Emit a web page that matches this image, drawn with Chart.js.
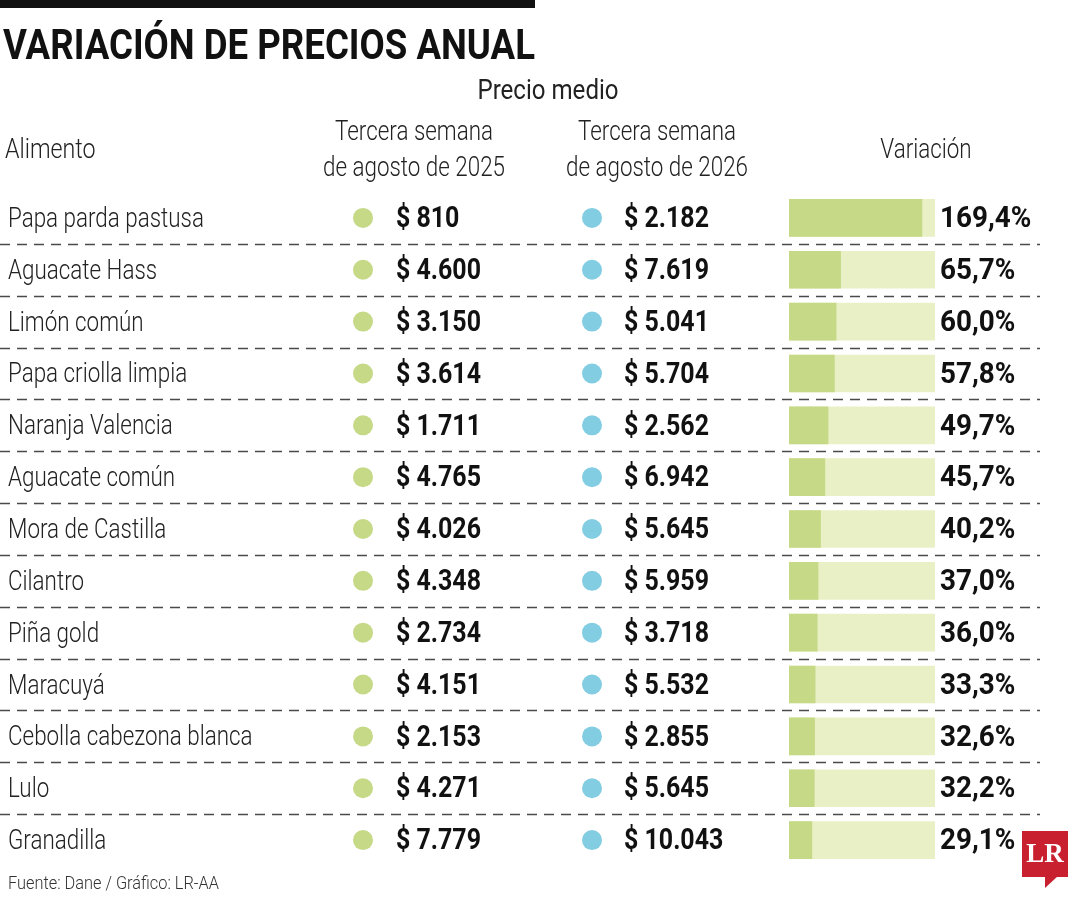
<!DOCTYPE html>
<html>
<head>
<meta charset="utf-8">
<script src="https://cdn.jsdelivr.net/npm/chart.js@4"></script>
<style>
  html, body { margin: 0; padding: 0; background: #fff; }
  #wrap { width: 1080px; height: 900px; }
</style>
</head>
<body>
<div id="wrap"><canvas id="precios" width="1080" height="900"></canvas></div>
<script>
// datos
const alimentos = ['Papa parda pastusa', 'Aguacate Hass', 'Limón común', 'Papa criolla limpia', 'Naranja Valencia',
    'Aguacate común', 'Mora de Castilla', 'Cilantro', 'Piña gold', 'Maracuyá', 'Cebolla cabezona blanca', 'Lulo', 'Granadilla'];
const precio2025 = [810, 4600, 3150, 3614, 1711, 4765, 4026, 4348, 2734, 4151, 2153, 4271, 7779];
const precio2026 = [2182, 7619, 5041, 5704, 2562, 6942, 5645, 5959, 3718, 5532, 2855, 5645, 10043];
const variacion = [169.4, 65.7, 60.0, 57.8, 49.7, 45.7, 40.2, 37.0, 36.0, 33.3, 32.6, 32.2, 29.1];
const escalaMax = 186;

const FAM = "Roboto, 'DejaVu Sans Condensed', sans-serif";
const VERDE = '#c5d987';
const PISTA = '#eaf0c6';
const AZUL = '#82cde2';

function pesos(v) {
    return '$ ' + String(v).replace(/\B(?=(\d{3})+(?!\d))/g, '.');
}
function pct(v) {
    return v.toFixed(1).replace('.', ',') + '%';
}

// texto "condensado": se estrecha en horizontal
function texto(ctx, s, x, y, align, font, sx) {
    ctx.save();
    ctx.translate(x, y + 2);
    ctx.scale(sx, 1);
    ctx.font = font;
    ctx.textAlign = align;
    ctx.fillText(s, 0, 0);
    ctx.restore();
}

const tablaPlugin = {
    id: 'tabla',
    beforeDatasetsDraw(chart) {
        const ctx = chart.ctx;
        const y = chart.scales.y;
        ctx.save();
        ctx.strokeStyle = '#4a4a4a';
        ctx.lineWidth = 1.4;
        ctx.setLineDash([10, 7]);
        for (let i = 0; i < alimentos.length - 1; i++) {
            const yy = Math.round((y.getPixelForValue(i) + y.getPixelForValue(i + 1)) / 2) + 0.5;
            ctx.beginPath();
            ctx.moveTo(0, yy);
            ctx.lineTo(1040, yy);
            ctx.stroke();
        }
        ctx.restore();
    },
    afterDraw(chart) {
        const ctx = chart.ctx;
        const y = chart.scales.y;
        const light = '300 28px ' + FAM;
        const bold = 'bold 29px ' + FAM;
        ctx.save();

        // barra superior y titulo
        ctx.fillStyle = '#111';
        ctx.fillRect(0, 0, 535, 8);
        ctx.textBaseline = 'alphabetic';
        ctx.font = 'bold 42px ' + FAM;
        ctx.textAlign = 'left';
        ctx.fillText('VARIACIÓN DE PRECIOS ANUAL', 3, 59, 532);

        // encabezados
        ctx.fillStyle = '#222';
        ctx.textBaseline = 'middle';
        texto(ctx, 'Precio medio', 548, 90, 'center', '400 28px ' + FAM, 0.86);
        texto(ctx, 'Tercera semana', 414, 131, 'center', light, 0.8);
        texto(ctx, 'de agosto de 2025', 414, 167, 'center', light, 0.8);
        texto(ctx, 'Tercera semana', 657, 131, 'center', light, 0.8);
        texto(ctx, 'de agosto de 2026', 657, 167, 'center', light, 0.8);
        texto(ctx, 'Variación', 926, 149, 'center', light, 0.8);
        texto(ctx, 'Alimento', 5, 149, 'left', light, 0.83);

        // filas
        alimentos.forEach((nombre, i) => {
            const yy = y.getPixelForValue(i);
            ctx.fillStyle = '#222';
            texto(ctx, nombre, 8, yy, 'left', light, 0.8);

            ctx.fillStyle = VERDE;
            ctx.beginPath();
            ctx.arc(363, yy, 10, 0, Math.PI * 2);
            ctx.fill();
            ctx.fillStyle = AZUL;
            ctx.beginPath();
            ctx.arc(592, yy, 10, 0, Math.PI * 2);
            ctx.fill();

            ctx.fillStyle = '#111';
            texto(ctx, pesos(precio2025[i]), 396, yy, 'left', bold, 0.86);
            texto(ctx, pesos(precio2026[i]), 624, yy, 'left', bold, 0.86);
            texto(ctx, pct(variacion[i]), 940, yy, 'left', bold, 0.96);
        });

        // fuente
        ctx.fillStyle = '#333';
        texto(ctx, 'Fuente: Dane / Gráfico: LR-AA', 8, 882, 'left', '300 19px ' + FAM, 0.86);

        // logo LR
        ctx.fillStyle = '#c8202f';
        ctx.fillRect(1022, 831, 46, 46);
        ctx.beginPath();
        ctx.moveTo(1045, 876);
        ctx.lineTo(1045, 888);
        ctx.lineTo(1058, 876);
        ctx.closePath();
        ctx.fill();
        ctx.fillStyle = '#fff';
        ctx.textAlign = 'center';
        ctx.font = "bold 27px 'Liberation Serif', 'DejaVu Serif', serif";
        ctx.fillText('LR', 1045, 855);
        ctx.restore();
    }
};

const ctx = document.getElementById('precios').getContext('2d');
const chart = new Chart(ctx, {
    type: 'bar',
    data: {
        labels: alimentos,
        datasets: [{
            label: 'Variación',
            data: variacion,
            backgroundColor: VERDE,
            barThickness: 37
        }, {
            label: 'pista',
            data: alimentos.map(() => escalaMax),
            backgroundColor: PISTA,
            barThickness: 37
        }]
    },
    options: {
        indexAxis: 'y',
        responsive: false,
        animation: false,
        grouped: false,
        layout: { padding: { left: 789, right: 145, top: 192, bottom: 34 } },
        scales: {
            x: { display: false, min: 0, max: escalaMax },
            y: { display: false }
        },
        plugins: {
            legend: { display: false },
            tooltip: { enabled: false }
        }
    },
    plugins: [tablaPlugin]
});
</script>
</body>
</html>
